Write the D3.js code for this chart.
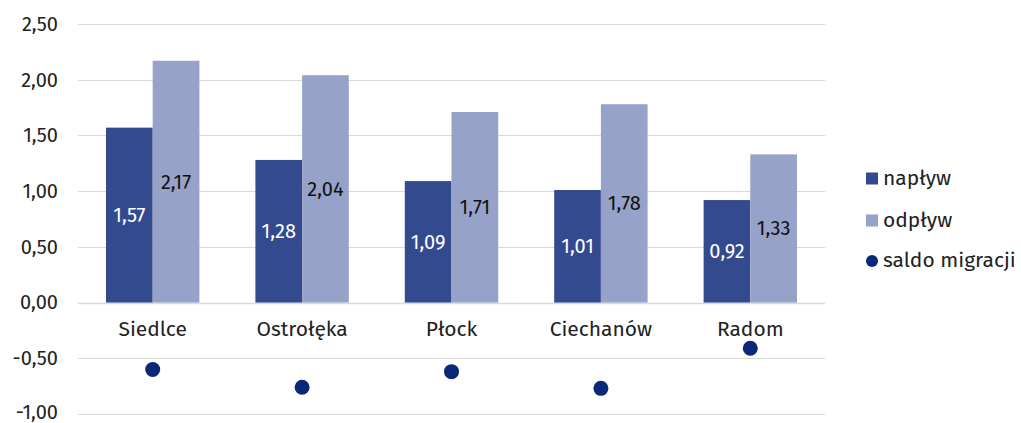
<!DOCTYPE html>
<html><head><meta charset="utf-8">
<script src="https://cdn.jsdelivr.net/npm/d3@7"></script>
<style>body{margin:0;background:#fff;} text{font-family:"Fira Sans","Noto Sans",sans-serif;}</style>
</head><body><svg id="c" width="1021" height="423"></svg>
<script>
const categories = ["Siedlce","Ostrołęka","Płock","Ciechanów","Radom"];
const naplyw = [1.57,1.28,1.09,1.01,0.92];
const odplyw = [2.17,2.04,1.71,1.78,1.33];
const saldo = [-0.60,-0.76,-0.62,-0.77,-0.41];
const yTicks = [-1,-0.5,0,0.5,1,1.5,2,2.5];
const seriesNames = ["napływ","odpływ","saldo migracji"];
const colors = {nap:"#344A8F", odp:"#97A2C9", sal:"#0B2877"};

const svg = d3.select("#c");
const fmt = v => d3.format(".2f")(v).replace(".",",").replace("−","-");
const x = d3.scaleBand().domain(categories).range([78,825]).paddingInner(0).paddingOuter(0);
const y = d3.scaleLinear().domain([-1,2.5]).range([414,24]);

svg.append("g").selectAll("line").data(yTicks).join("line")
  .attr("x1",78).attr("x2",825).attr("y1",d=>Math.round(y(d))+0.5).attr("y2",d=>Math.round(y(d))+0.5)
  .attr("stroke","#d9d9d9").attr("stroke-width",d=>d===0?1.5:1.2);

const yAxis = d3.axisLeft(y).tickValues(yTicks).tickFormat(fmt).tickSize(0).tickPadding(0);
const ga = svg.append("g").attr("transform","translate(58,0)").call(yAxis);
ga.select(".domain").remove();
ga.selectAll("text").attr("font-size",20).attr("fill","#222").attr("font-family","Fira Sans, Noto Sans, sans-serif");
ga.selectAll(".tick").filter(d=>d===-1).select("text").attr("dy","0.2em");

const bw = 46.7;
const inner = d3.scaleBand().domain(["nap","odp"]).range([0,bw*2]);
const g = svg.append("g");
categories.forEach((c,i)=>{
  const cx = x(c)+x.bandwidth()/2;
  const x0 = cx-bw;
  [["nap",naplyw[i],"#fff"],["odp",odplyw[i],"#111"]].forEach(([k,v,tc])=>{
    g.append("rect").attr("x",x0+inner(k)).attr("width",inner.bandwidth())
     .attr("y",y(v)).attr("height",y(0)-y(v)).attr("fill",colors[k]);
    g.append("text").attr("x",x0+inner(k)+inner.bandwidth()/2).attr("y",(y(v)+y(0))/2)
     .attr("text-anchor","middle").attr("dominant-baseline","central")
     .attr("font-size",20).attr("fill",tc).text(fmt(v));
  });
  g.append("text").attr("x",cx).attr("y",329).attr("text-anchor","middle").attr("dominant-baseline","central")
   .attr("font-size",21).attr("fill","#222").text(c);
  g.append("circle").attr("cx",cx).attr("cy",y(saldo[i])).attr("r",7.5).attr("fill",colors.sal);
});

const lg = svg.append("g");
const ly = [178.5,220.5,261];
lg.append("rect").attr("x",866).attr("y",ly[0]-6).attr("width",12).attr("height",12).attr("fill",colors.nap);
lg.append("rect").attr("x",866).attr("y",ly[1]-6).attr("width",12).attr("height",12).attr("fill",colors.odp);
lg.append("circle").attr("cx",872).attr("cy",ly[2]).attr("r",6).attr("fill",colors.sal);
seriesNames.forEach((n,i)=>{
  lg.append("text").attr("x",883).attr("y",ly[i]-1).attr("dominant-baseline","central")
   .attr("font-size",21).attr("fill","#222").text(n);
});
</script></body></html>
